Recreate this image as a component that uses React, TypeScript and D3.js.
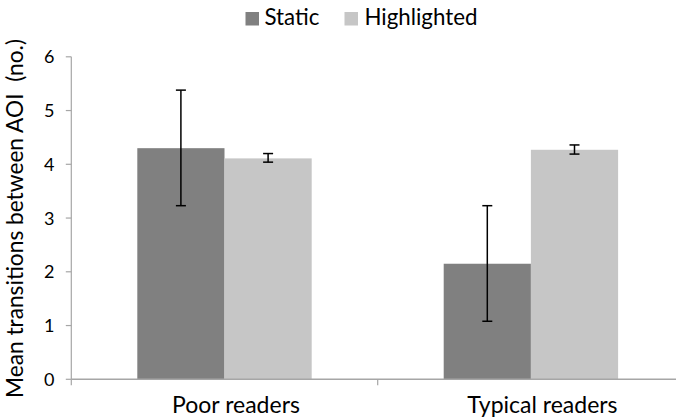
import React from "react";
import * as d3 from "d3";

const categories = ["Poor readers", "Typical readers"];
const seriesNames = ["Static", "Highlighted"];
const staticMeans = [4.3, 2.15];
const staticLow = [3.23, 1.08];
const staticHigh = [5.38, 3.23];
const highlightedMeans = [4.11, 4.27];
const highlightedLow = [4.04, 4.19];
const highlightedHigh = [4.2, 4.36];
const yTicks = [0, 1, 2, 3, 4, 5, 6];
const colors = ["#808080", "#c6c6c6"];

const W = 676;
const H = 419;
const FONT = "Lato, 'Open Sans', sans-serif";

export default function App() {
  const left = 71.3;
  const bandW = 306.4;
  const x = d3
    .scaleBand<string>()
    .domain(categories)
    .range([left, left + bandW * categories.length])
    .paddingInner(0)
    .paddingOuter(0);
  const y = d3.scaleLinear().domain([0, 6]).range([379.3, 56.8]);
  const barW = 87.2;

  const series = [
    { name: seriesNames[0], means: staticMeans, lo: staticLow, hi: staticHigh, color: colors[0] },
    { name: seriesNames[1], means: highlightedMeans, lo: highlightedLow, hi: highlightedHigh, color: colors[1] },
  ];

  const boundaries = [0, 1, 2].map((i) => left + bandW * i);

  return (
    <svg width={W} height={H} style={{ position: "absolute", left: 0, top: 0, background: "#fff" }}>
      {/* bars */}
      {series.map((s, si) =>
        categories.map((c, ci) => {
          const cx = (x(c) as number) + x.bandwidth() / 2;
          const bx = cx + (si - 1) * barW;
          return (
            <rect
              key={`b${si}-${ci}`}
              x={bx}
              y={y(s.means[ci])}
              width={barW}
              height={y(0) - y(s.means[ci])}
              fill={s.color}
            />
          );
        })
      )}
      {/* axes */}
      <line x1={left} x2={left} y1={y(6)} y2={y(0)} stroke="#a6a6a6" strokeWidth={1.2} />
      <line x1={left} x2={W} y1={y(0)} y2={y(0)} stroke="#a6a6a6" strokeWidth={1.5} />
      {yTicks.map((t) => (
        <g key={`yt${t}`}>
          <line x1={left - 5.5} x2={left} y1={y(t)} y2={y(t)} stroke="#a6a6a6" strokeWidth={1.2} />
          <text
            x={54.5}
            y={y(t)}
            dy="0.36em"
            textAnchor="end"
            fontFamily={FONT}
            fontSize={18}
            fill="#000"
          >
            {t}
          </text>
        </g>
      ))}
      {boundaries.map((bx, i) => (
        <line key={`xt${i}`} x1={bx} x2={bx} y1={y(0)} y2={y(0) + 6} stroke="#a6a6a6" strokeWidth={1.2} />
      ))}
      {/* error bars */}
      {series.map((s, si) =>
        categories.map((c, ci) => {
          const cx = (x(c) as number) + x.bandwidth() / 2 + (si - 0.5) * barW;
          return (
            <g key={`e${si}-${ci}`} stroke="#000" strokeWidth={1.5}>
              <line x1={cx} x2={cx} y1={y(s.hi[ci])} y2={y(s.lo[ci])} />
              <line x1={cx - 5} x2={cx + 5} y1={y(s.hi[ci])} y2={y(s.hi[ci])} />
              <line x1={cx - 5} x2={cx + 5} y1={y(s.lo[ci])} y2={y(s.lo[ci])} />
            </g>
          );
        })
      )}
      {/* category labels */}
      {categories.map((c) => (
        <text
          key={c}
          x={(x(c) as number) + x.bandwidth() / 2 + 11.5}
          y={413}
          textAnchor="middle"
          fontFamily={FONT}
          fontSize={23}
          fill="#000"
        >
          {c}
        </text>
      ))}
      {/* y title */}
      <text
        transform={`translate(23, 218.5) rotate(-90)`}
        textAnchor="middle"
        fontFamily={FONT}
        fontSize={22.7}
        fill="#000"
        style={{ whiteSpace: "pre" }}
      >
        {"Mean transitions between AOI  (no.)"}
      </text>
      {/* legend */}
      <rect x={245.5} y={12} width={13.5} height={13.5} fill={colors[0]} />
      <text x={264.5} y={25} fontFamily={FONT} fontSize={22.3} fill="#000">
        {seriesNames[0]}
      </text>
      <rect x={344.5} y={12} width={13.5} height={13.5} fill={colors[1]} />
      <text x={364.5} y={25} fontFamily={FONT} fontSize={22.3} fill="#000">
        {seriesNames[1]}
      </text>
    </svg>
  );
}
